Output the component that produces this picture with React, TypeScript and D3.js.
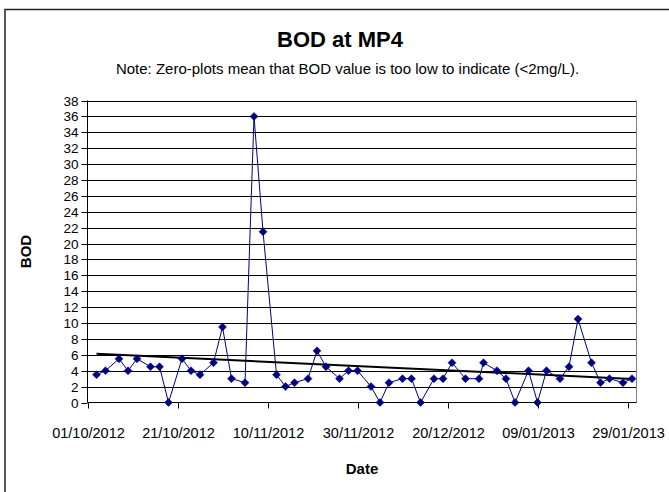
import { useEffect, useRef } from "react";
import * as d3 from "d3";

// sample dates (dd/mm/yyyy) and BOD readings in mg/L
const sampleDates = [
  "03/10/2012", "05/10/2012", "08/10/2012", "10/10/2012", "12/10/2012", "15/10/2012", "17/10/2012",
  "19/10/2012", "22/10/2012", "24/10/2012", "26/10/2012", "29/10/2012", "31/10/2012",
  "02/11/2012", "05/11/2012", "07/11/2012", "09/11/2012", "12/11/2012", "14/11/2012", "16/11/2012",
  "19/11/2012", "21/11/2012", "23/11/2012", "26/11/2012", "28/11/2012", "30/11/2012",
  "03/12/2012", "05/12/2012", "07/12/2012", "10/12/2012", "12/12/2012", "14/12/2012", "17/12/2012",
  "19/12/2012", "21/12/2012", "24/12/2012", "27/12/2012", "28/12/2012", "31/12/2012",
  "02/01/2013", "04/01/2013", "07/01/2013", "09/01/2013", "11/01/2013", "14/01/2013", "16/01/2013",
  "18/01/2013", "21/01/2013", "23/01/2013", "25/01/2013", "28/01/2013", "30/01/2013",
];

const bodValues = [
  3.5, 4, 5.5, 4, 5.5, 4.5, 4.5, 0, 5.5, 4, 3.5, 5, 9.5,
  3, 2.5, 36, 21.5, 3.5, 2, 2.5, 3, 6.5, 4.5, 3, 4, 4,
  2, 0, 2.5, 3, 3, 0, 3, 3, 5, 3, 3, 5, 4,
  3, 0, 4, 0, 4, 3, 4.5, 10.5, 5, 2.5, 3, 2.5, 3,
];

const xTickLabels = [
  "01/10/2012", "21/10/2012", "10/11/2012", "30/11/2012", "20/12/2012", "09/01/2013", "29/01/2013",
];
const yTicks = d3.range(0, 39, 2);

const axisStart = "01/10/2012";
const axisEnd = "31/01/2013";

const titleText = "BOD at MP4";
const noteText = "Note: Zero-plots mean that BOD value is too low to indicate (<2mg/L).";

export default function App() {
  const svgRef = useRef<SVGSVGElement>(null);

  useEffect(() => {
    if (!svgRef.current) return;
    const svg = d3.select(svgRef.current);
    svg.selectAll("*").remove();

    const width = 669;
    const height = 492;
    const plot = { left: 87.5, right: 636.5, top: 100.5, bottom: 402.5 };
    const font = "Liberation Sans, Arial, sans-serif";
    const parse = d3.timeParse("%d/%m/%Y");

    svg.attr("width", width).attr("height", height);

    // chart area
    svg
      .append("rect")
      .attr("x", 0)
      .attr("y", 0)
      .attr("width", width)
      .attr("height", height)
      .attr("fill", "white");
    svg
      .append("rect")
      .attr("x", 5)
      .attr("y", 9.5)
      .attr("width", 680)
      .attr("height", 500)
      .attr("fill", "none")
      .attr("stroke", "#222")
      .attr("stroke-width", 1.5);

    const x = d3
      .scaleTime()
      .domain([parse(axisStart)!, parse(axisEnd)!])
      .range([plot.left, plot.right]);
    const y = d3.scaleLinear().domain([0, 38]).range([plot.bottom, plot.top]);

    // gridlines
    svg
      .append("g")
      .selectAll("line")
      .data(yTicks.filter((d) => d > 0))
      .join("line")
      .attr("x1", plot.left)
      .attr("x2", plot.right)
      .attr("y1", (d) => Math.round(y(d)) + 0.5)
      .attr("y2", (d) => Math.round(y(d)) + 0.5)
      .attr("stroke", "#000")
      .attr("stroke-width", 1);

    // plot area border (right side)
    svg
      .append("line")
      .attr("x1", plot.right)
      .attr("x2", plot.right)
      .attr("y1", plot.top)
      .attr("y2", plot.bottom)
      .attr("stroke", "#808080");

    // y axis
    const yAxis = svg.append("g");
    yAxis
      .append("line")
      .attr("x1", plot.left)
      .attr("x2", plot.left)
      .attr("y1", plot.top)
      .attr("y2", plot.bottom)
      .attr("stroke", "#000");
    yTicks.forEach((v) => {
      const ty = Math.round(y(v)) + 0.5;
      yAxis
        .append("line")
        .attr("x1", plot.left - 6)
        .attr("x2", plot.left)
        .attr("y1", ty)
        .attr("y2", ty)
        .attr("stroke", "#000");
      yAxis
        .append("text")
        .attr("x", plot.left - 9)
        .attr("y", ty)
        .attr("dy", "0.36em")
        .attr("text-anchor", "end")
        .attr("font-family", font)
        .attr("font-size", "13.5px")
        .attr("fill", "#000")
        .text(v);
    });

    // x axis
    const xAxis = svg.append("g");
    xAxis
      .append("line")
      .attr("x1", plot.left)
      .attr("x2", plot.right)
      .attr("y1", plot.bottom)
      .attr("y2", plot.bottom)
      .attr("stroke", "#000");
    xTickLabels.forEach((label) => {
      const tx = Math.round(x(parse(label)!)) + 0.5;
      xAxis
        .append("line")
        .attr("x1", tx)
        .attr("x2", tx)
        .attr("y1", plot.bottom)
        .attr("y2", plot.bottom + 6)
        .attr("stroke", "#000");
      xAxis
        .append("text")
        .attr("x", tx)
        .attr("y", plot.bottom + 35)
        .attr("text-anchor", "middle")
        .attr("font-family", font)
        .attr("font-size", "14.5px")
        .attr("fill", "#000")
        .text(label);
    });

    // data
    const points = sampleDates.map((d, i) => ({ date: parse(d)!, value: bodValues[i] }));

    svg
      .append("path")
      .datum(points)
      .attr("fill", "none")
      .attr("stroke", "#000080")
      .attr("stroke-width", 1)
      .attr(
        "d",
        d3
          .line<{ date: Date; value: number }>()
          .x((d) => x(d.date))
          .y((d) => y(d.value))
      );

    // linear trendline (least squares over dates)
    const xs = points.map((p) => p.date.getTime());
    const ys = points.map((p) => p.value);
    const mx = d3.mean(xs)!;
    const my = d3.mean(ys)!;
    const slope =
      d3.sum(xs, (v, i) => (v - mx) * (ys[i] - my)) / d3.sum(xs, (v) => (v - mx) * (v - mx));
    const intercept = my - slope * mx;
    const t0 = xs[0];
    const t1 = xs[xs.length - 1];
    svg
      .append("line")
      .attr("x1", x(new Date(t0)))
      .attr("y1", y(intercept + slope * t0))
      .attr("x2", x(new Date(t1)))
      .attr("y2", y(intercept + slope * t1))
      .attr("stroke", "#000")
      .attr("stroke-width", 2);

    // diamond markers
    svg
      .append("g")
      .selectAll("path")
      .data(points)
      .join("path")
      .attr("transform", (d) => `translate(${x(d.date)},${y(d.value)})`)
      .attr("d", "M0,-4L4,0L0,4L-4,0Z")
      .attr("fill", "#000080")
      .attr("stroke", "#000080")
      .attr("stroke-width", 0.5);

    // titles
    svg
      .append("text")
      .attr("x", 340)
      .attr("y", 47)
      .attr("text-anchor", "middle")
      .attr("font-family", font)
      .attr("font-size", "22px")
      .attr("font-weight", "bold")
      .attr("fill", "#000")
      .text(titleText);
    svg
      .append("text")
      .attr("x", 347.5)
      .attr("y", 74)
      .attr("text-anchor", "middle")
      .attr("font-family", font)
      .attr("font-size", "15px")
      .attr("fill", "#000")
      .text(noteText);

    svg
      .append("text")
      .attr("transform", `translate(31,${(plot.top + plot.bottom) / 2}) rotate(-90)`)
      .attr("text-anchor", "middle")
      .attr("font-family", font)
      .attr("font-size", "15px")
      .attr("font-weight", "bold")
      .attr("fill", "#000")
      .text("BOD");
    svg
      .append("text")
      .attr("x", (plot.left + plot.right) / 2)
      .attr("y", 474)
      .attr("text-anchor", "middle")
      .attr("font-family", font)
      .attr("font-size", "15px")
      .attr("font-weight", "bold")
      .attr("fill", "#000")
      .text("Date");
  }, []);

  return (
    <svg
      ref={svgRef}
      style={{ position: "absolute", left: 0, top: 0, display: "block" }}
    ></svg>
  );
}
